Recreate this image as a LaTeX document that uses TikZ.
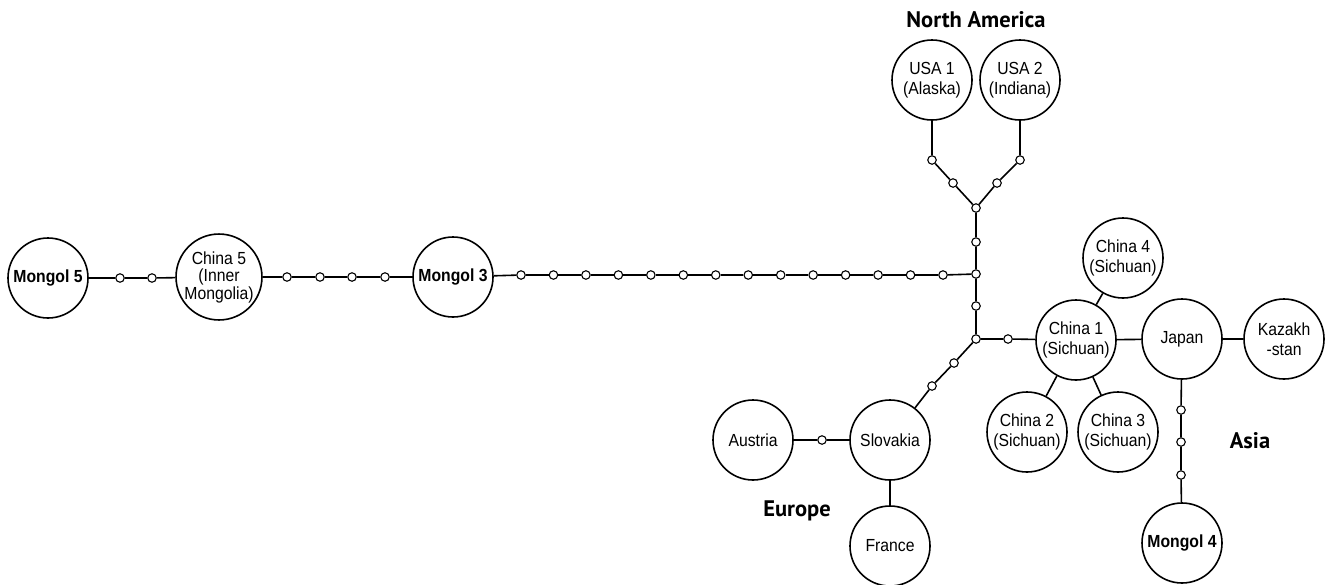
\documentclass[tikz,border=0pt]{standalone}
\usepackage{fontspec}
\setmainfont{Liberation Sans}[FakeStretch=0.9]
\newfontfamily\regfont{PT Sans}
\begin{document}
\begin{tikzpicture}[x=1pt,y=-1pt,
  big/.style={circle,draw,line width=1.6pt,minimum size=80pt,inner sep=0pt,align=center,
    font=\fontsize{17.5}{19.5}\selectfont,fill=white},
  bigb/.style={big,font=\fontsize{17.5}{19.5}\selectfont\bfseries},
  dot/.style={circle,draw,line width=1.1pt,minimum size=8.5pt,inner sep=0pt,fill=white},
  link/.style={line width=1.6pt},
  region/.style={font=\regfont\fontsize{22.5}{26}\selectfont\bfseries}]
\useasboundingbox (0,0) rectangle (1327,584);
% big nodes
\node[bigb] (m5) at (48,278) {Mongol 5};
\node[big,font=\fontsize{17.5}{17.5}\selectfont] (c5) at (219,277) {China 5\\(Inner\\Mongolia)};
\node[bigb] (m3) at (453,277) {Mongol 3};
\node[big] (usa1) at (932,80) {USA 1\\(Alaska)};
\node[big] (usa2) at (1020,80) {USA 2\\(Indiana)};
\node[big] (c1) at (1076,340) {China 1\\(Sichuan)};
\node[big] (c4) at (1123,258) {China 4\\(Sichuan)};
\node[big] (c2) at (1027,432) {China 2\\(Sichuan)};
\node[big] (c3) at (1118,432) {China 3\\(Sichuan)};
\node[big] (jp) at (1182,339) {Japan};
\node[big] (kz) at (1284,339) {Kazakh\\-stan};
\node[bigb] (m4) at (1182,543) {Mongol 4};
\node[big] (sk) at (890,440) {Slovakia};
\node[big] (au) at (753,440) {Austria};
\node[big] (fr) at (890,546) {France};
% region labels
\node[region] (na) at (976,20) {North America};
\node[region] (eu) at (797,511) {Europe};
\node[region] (as) at (1250,441) {Asia};
% junctions and dots
\node[dot] (j1) at (976,208) {};
\node[dot] (j2) at (976,274) {};
\node[dot] (j3) at (976,339) {};
\node[dot] (v1) at (976,242) {};
\node[dot] (v2) at (976,306) {};
\node[dot] (a1) at (932,160) {};
\node[dot] (a2) at (953,183) {};
\node[dot] (b1) at (1020,160) {};
\node[dot] (b2) at (997,183) {};
\node[dot] (e1) at (954,363) {};
\node[dot] (e2) at (932,386) {};
\node[dot] (e3) at (822,440) {};
\node[dot] (h1) at (1008,339) {};
\node[dot] (p1) at (1181,410) {};
\node[dot] (p2) at (1181,442) {};
\node[dot] (p3) at (1181,475) {};
\node[dot] (l1) at (120,278) {};
\node[dot] (l2) at (152,278) {};
\node[dot] (k1) at (287,277) {};
\node[dot] (k2) at (320,277) {};
\node[dot] (k3) at (352,277) {};
\node[dot] (k4) at (385,277) {};
\foreach \i in {1,...,14} {
  \node[dot] (r\i) at ({521+(\i-1)*(943-521)/13},275) {};
}
% connectors
\draw[link] (m5) -- (l1) -- (l2) -- (c5);
\draw[link] (c5) -- (k1) -- (k2) -- (k3) -- (k4) -- (m3);
\draw[link] (m3) -- (r1);
\foreach \i [count=\j from 2] in {1,...,13} { \draw[link] (r\i) -- (r\j); }
\draw[link] (r14) -- (j2);
\draw[link] (usa1) -- (a1) -- (a2) -- (j1);
\draw[link] (usa2) -- (b1) -- (b2) -- (j1);
\draw[link] (j1) -- (v1) -- (j2) -- (v2) -- (j3);
\draw[link] (j3) -- (h1) -- (c1);
\draw[link] (j3) -- (e1) -- (e2) -- (sk);
\draw[link] (sk) -- (e3) -- (au);
\draw[link] (sk) -- (fr);
\draw[link] (c1) -- (c4);
\draw[link] (c1) -- (c2);
\draw[link] (c1) -- (c3);
\draw[link] (c1) -- (jp);
\draw[link] (jp) -- (kz);
\draw[link] (jp) -- (p1) -- (p2) -- (p3) -- (m4);
\end{tikzpicture}
\end{document}
